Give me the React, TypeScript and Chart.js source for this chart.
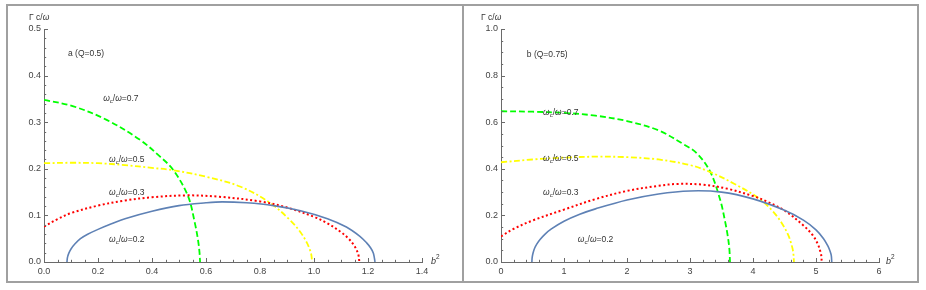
import React, { useEffect, useRef } from 'react';
import { Chart, registerables } from 'chart.js';
Chart.register(...registerables);

const FONT = '"Liberation Sans", Arial, Helvetica, sans-serif';
const BLUE = '#5E81B5';
const RED = '#FF0000';
const YELLOW = '#FFFF00';
const GREEN = '#00FF00';
const AXIS = '#6a6a6a';
const TICKTXT = '#444444';
const FRAME = '#a0a0a0';

// ---- Panel a (Q=0.5) ----
const aX02 = [0.085, 0.087, 0.092, 0.1, 0.115, 0.135, 0.16, 0.2, 0.25, 0.3, 0.4, 0.5, 0.6, 0.66, 0.75, 0.85, 0.95, 1.05, 1.12, 1.17, 1.195, 1.21, 1.22, 1.226];
const aY02 = [0, 0.01, 0.019, 0.028, 0.039, 0.05, 0.059, 0.07, 0.082, 0.093, 0.109, 0.121, 0.127, 0.129, 0.127, 0.121, 0.11, 0.093, 0.075, 0.055, 0.041, 0.03, 0.019, 0];
const aX03 = [0, 0.05, 0.1, 0.2, 0.3, 0.4, 0.53, 0.65, 0.8, 0.9, 1.0, 1.05, 1.1, 1.13, 1.15, 1.16, 1.165, 1.168];
const aY03 = [0.076, 0.092, 0.105, 0.121, 0.132, 0.139, 0.143, 0.14, 0.13, 0.117, 0.097, 0.083, 0.064, 0.049, 0.034, 0.023, 0.014, 0];
const aX05 = [0, 0.1, 0.2, 0.3, 0.4, 0.478, 0.6, 0.726, 0.837, 0.911, 0.95, 0.973, 0.985, 0.99, 0.993];
const aY05 = [0.212, 0.213, 0.212, 0.208, 0.202, 0.197, 0.183, 0.162, 0.127, 0.09, 0.064, 0.042, 0.026, 0.016, 0];
const aX07 = [0, 0.109, 0.232, 0.356, 0.43, 0.478, 0.533, 0.559, 0.571, 0.576, 0.578];
const aY07 = [0.348, 0.334, 0.305, 0.262, 0.226, 0.198, 0.142, 0.083, 0.045, 0.02, 0];
const aXTicks = [0, 0.2, 0.4, 0.6, 0.8, 1.0, 1.2, 1.4];
const aYTicks = [0, 0.1, 0.2, 0.3, 0.4, 0.5];

// ---- Panel b (Q=0.75) ----
const bX02 = [0.49, 0.495, 0.51, 0.535, 0.57, 0.62, 0.7, 0.8, 1.0, 1.25, 1.5, 2.0, 2.5, 3.0, 3.5, 4.0, 4.5, 4.8, 5.0, 5.12, 5.19, 5.225, 5.243, 5.25];
const bY02 = [0, 0.02, 0.04, 0.06, 0.078, 0.097, 0.12, 0.142, 0.175, 0.205, 0.228, 0.266, 0.292, 0.305, 0.3, 0.271, 0.222, 0.18, 0.138, 0.1, 0.068, 0.045, 0.027, 0];
const bX03 = [0, 0.2, 0.5, 1.0, 1.5, 2.0, 2.5, 2.8, 3.2, 3.6, 4.0, 4.2, 4.5, 4.8, 4.95, 5.03, 5.07, 5.085, 5.09];
const bY03 = [0.11, 0.142, 0.178, 0.225, 0.27, 0.305, 0.327, 0.335, 0.332, 0.314, 0.283, 0.262, 0.221, 0.157, 0.114, 0.076, 0.044, 0.025, 0];
const bX05 = [0, 0.5, 1.0, 1.5, 2.0, 2.5, 3.0, 3.33, 3.7, 4.09, 4.3, 4.45, 4.56, 4.62, 4.64, 4.65];
const bY05 = [0.428, 0.44, 0.448, 0.452, 0.45, 0.44, 0.416, 0.385, 0.336, 0.274, 0.222, 0.17, 0.115, 0.066, 0.038, 0];
const bX07 = [0, 0.5, 1.0, 1.5, 2.0, 2.5, 2.9, 3.11, 3.32, 3.48, 3.56, 3.6, 3.625, 3.635];
const bY07 = [0.647, 0.645, 0.64, 0.628, 0.605, 0.565, 0.505, 0.466, 0.388, 0.266, 0.17, 0.11, 0.055, 0];
const bXTicks = [0, 1, 2, 3, 4, 5, 6];
const bYTicks = [0, 0.2, 0.4, 0.6, 0.8, 1.0];

// annotation labels [text-value, x, y] in data coordinates
const aLabels: [string, number, number][] = [
  ['0.7', 0.219, 0.35],
  ['0.5', 0.241, 0.219],
  ['0.3', 0.241, 0.148],
  ['0.2', 0.241, 0.047],
];
const bLabels: [string, number, number][] = [
  ['0.7', 0.667, 0.64],
  ['0.5', 0.667, 0.442],
  ['0.3', 0.667, 0.296],
  ['0.2', 1.22, 0.094],
];

type Part = { t: string; italic?: boolean; sub?: boolean; sup?: boolean };

function drawRich(ctx: CanvasRenderingContext2D, x: number, y: number, parts: Part[], size: number) {
  let cx = x;
  for (const p of parts) {
    const fs = p.sub || p.sup ? size * 0.72 : size;
    ctx.font = `${p.italic ? 'italic ' : ''}${fs}px ${FONT}`;
    const dy = p.sub ? size * 0.3 : p.sup ? -size * 0.38 : 0;
    ctx.fillText(p.t, cx, y + dy);
    cx += ctx.measureText(p.t).width;
  }
}

function mk(xs: number[], ys: number[], color: string, dash: number[], width: number) {
  return {
    data: xs.map((x, i) => ({ x, y: ys[i] })),
    borderColor: color,
    backgroundColor: color,
    borderWidth: width,
    borderDash: dash,
    borderCapStyle: 'butt',
    pointRadius: 0,
    showLine: true,
    fill: false,
    tension: 0.35,
  };
}

type PanelCfg = {
  left: number; top: number; w: number; h: number;
  pad: { left: number; right: number; top: number; bottom: number };
  xMax: number; yMax: number;
  xTicks: number[]; yTicks: number[];
  xMinor: number; yMinor: number;
  xDec: number; yDec: number;
  series: any[];
  title: string;
  titleAt: [number, number];
  labels: [string, number, number][];
  yLabelDx: number;
  bDx: number;
};

function Panel({ cfg }: { cfg: PanelCfg }) {
  const ref = useRef<HTMLCanvasElement | null>(null);
  useEffect(() => {
    const decor = {
      id: 'decor',
      afterDraw(chart: any) {
        const { ctx, chartArea, scales } = chart;
        const xs = scales.x, ys = scales.y;
        ctx.save();
        ctx.strokeStyle = AXIS;
        ctx.lineWidth = 1;
        const eps = 1e-6;
        for (let k = 0; k * cfg.xMinor <= cfg.xMax + eps; k++) {
          const v = k * cfg.xMinor;
          const major = cfg.xTicks.some((t) => Math.abs(t - v) < eps);
          const len = major ? 4 : 2.2;
          const px = Math.round(xs.getPixelForValue(v)) + 0.5;
          ctx.beginPath();
          ctx.moveTo(px, chartArea.bottom);
          ctx.lineTo(px, chartArea.bottom - len);
          ctx.stroke();
        }
        for (let k = 0; k * cfg.yMinor <= cfg.yMax + eps; k++) {
          const v = k * cfg.yMinor;
          const major = cfg.yTicks.some((t) => Math.abs(t - v) < eps);
          const len = major ? 4 : 2.2;
          const py = Math.round(ys.getPixelForValue(v)) + 0.5;
          ctx.beginPath();
          ctx.moveTo(chartArea.left, py);
          ctx.lineTo(chartArea.left + len, py);
          ctx.stroke();
        }
        ctx.fillStyle = '#333';
        ctx.textBaseline = 'middle';
        ctx.textAlign = 'left';
        drawRich(ctx, chartArea.left + cfg.yLabelDx, chartArea.top - 11, [
          { t: 'Γ c/' }, { t: 'ω', italic: true },
        ], 8.5);
        drawRich(ctx, chartArea.right + cfg.bDx, chartArea.bottom - 1, [
          { t: 'b', italic: true }, { t: '2', sup: true },
        ], 9);
        drawRich(ctx, xs.getPixelForValue(cfg.titleAt[0]), ys.getPixelForValue(cfg.titleAt[1]), [{ t: cfg.title }], 8.5);
        for (const [val, lx, ly] of cfg.labels) {
          drawRich(ctx, xs.getPixelForValue(lx), ys.getPixelForValue(ly), [
            { t: 'ω', italic: true }, { t: 'c', sub: true }, { t: '/' }, { t: 'ω', italic: true }, { t: '=' + val },
          ], 8.5);
        }
        ctx.restore();
      },
    };
    const chart = new Chart(ref.current as HTMLCanvasElement, {
      type: 'scatter',
      data: { datasets: cfg.series as any },
      options: {
        animation: false,
        responsive: false,
        devicePixelRatio: 1,
        layout: { padding: cfg.pad },
        plugins: { legend: { display: false }, tooltip: { enabled: false } },
        scales: {
          x: {
            type: 'linear',
            min: 0,
            max: cfg.xMax,
            afterBuildTicks: (s: any) => { s.ticks = cfg.xTicks.map((v) => ({ value: v })); },
            afterFit: (s: any) => { s.height = 19; },
            grid: { display: true, drawOnChartArea: false, drawTicks: false },
            border: { display: true, color: AXIS, width: 1 },
            ticks: {
              padding: 4,
              color: TICKTXT,
              font: { family: FONT, size: 9 },
              maxRotation: 0,
              autoSkip: false,
              callback: (v: any) => Number(v).toFixed(cfg.xDec),
            },
          },
          y: {
            type: 'linear',
            min: 0,
            max: cfg.yMax,
            afterBuildTicks: (s: any) => { s.ticks = cfg.yTicks.map((v) => ({ value: v })); },
            afterFit: (s: any) => { s.width = 30; },
            grid: { display: true, drawOnChartArea: false, drawTicks: false },
            border: { display: true, color: AXIS, width: 1 },
            ticks: {
              padding: 3,
              color: TICKTXT,
              font: { family: FONT, size: 9 },
              autoSkip: false,
              callback: (v: any) => Number(v).toFixed(cfg.yDec),
            },
          },
        },
      } as any,
      plugins: [decor as any],
    });
    return () => chart.destroy();
  }, []);
  return (
    <canvas
      ref={ref}
      width={cfg.w}
      height={cfg.h}
      style={{ position: 'absolute', left: cfg.left, top: cfg.top, width: cfg.w, height: cfg.h }}
    />
  );
}

const panelA: PanelCfg = {
  left: 8, top: 6, w: 454, h: 275,
  pad: { left: 6, right: 40, top: 23, bottom: 0 },
  xMax: 1.4, yMax: 0.5,
  xTicks: aXTicks, yTicks: aYTicks,
  xMinor: 0.05, yMinor: 0.02,
  xDec: 1, yDec: 1,
  series: [
    mk(aX02, aY02, BLUE, [], 1.6),
    mk(aX03, aY03, RED, [2, 2.5], 2),
    mk(aX05, aY05, YELLOW, [6, 2.5, 2, 2.5], 1.8),
    mk(aX07, aY07, GREEN, [6, 3], 1.8),
  ],
  title: 'a (Q=0.5)',
  titleAt: [0.089, 0.447],
  labels: aLabels,
  yLabelDx: -15,
  bDx: 9,
};

const panelB: PanelCfg = {
  left: 464, top: 6, w: 453, h: 275,
  pad: { left: 7, right: 38, top: 23, bottom: 0 },
  xMax: 6, yMax: 1.0,
  xTicks: bXTicks, yTicks: bYTicks,
  xMinor: 0.2, yMinor: 0.05,
  xDec: 0, yDec: 1,
  series: [
    mk(bX02, bY02, BLUE, [], 1.6),
    mk(bX03, bY03, RED, [2, 2.5], 2),
    mk(bX05, bY05, YELLOW, [6, 2.5, 2, 2.5], 1.8),
    mk(bX07, bY07, GREEN, [6, 3], 1.8),
  ],
  title: 'b (Q=0.75)',
  titleAt: [0.41, 0.888],
  labels: bLabels,
  yLabelDx: -20,
  bDx: 7,
};

export default function App() {
  return (
    <div style={{ position: 'absolute', left: 0, top: 0, width: 926, height: 290, background: '#fff', overflow: 'hidden' }}>
      <div style={{ position: 'absolute', left: 6, top: 4, width: 913, height: 279, boxSizing: 'border-box', border: `2px solid ${FRAME}` }} />
      <div style={{ position: 'absolute', left: 462, top: 4, width: 2, height: 279, background: FRAME }} />
      <Panel cfg={panelA} />
      <Panel cfg={panelB} />
    </div>
  );
}
